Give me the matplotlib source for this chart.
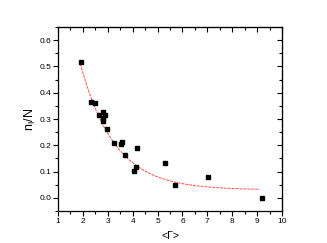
import numpy as np
import matplotlib.pyplot as plt
from matplotlib.ticker import MultipleLocator

plt.rcParams['font.family'] = ['Liberation Sans', 'DejaVu Sans']

# measured points
gamma_mean = [1.91, 2.32, 2.49, 2.63, 2.80, 2.79, 2.81, 2.89, 2.95, 3.24,
              3.54, 3.57, 3.70, 4.16, 4.05, 4.12, 5.29, 5.70, 7.03, 9.19]
n_frac = [0.518, 0.364, 0.360, 0.315, 0.326, 0.305, 0.293, 0.317, 0.261, 0.207,
          0.203, 0.211, 0.162, 0.188, 0.103, 0.117, 0.131, 0.048, 0.078, 0.000]

# exponential decay fit: y = y0 + A*exp(-(x - x0)/t)
fit_y0, fit_A, fit_x0, fit_t = 0.030, 0.480, 1.9, 1.37
fit_range = (1.9, 9.1)

fig = plt.figure(figsize=(3.27, 2.43), dpi=100)
ax = fig.add_axes([58 / 327, 1 - 211 / 243, 224 / 327, 184 / 243])

xf = np.linspace(*fit_range, 200)
ax.plot(xf, fit_y0 + fit_A * np.exp(-(xf - fit_x0) / fit_t),
        color='#ff5050', lw=0.7, ls=(0, (3, 1)), zorder=1)
ax.plot(gamma_mean, n_frac, 's', color='black', ms=2.5, zorder=2)

ax.set_xlim(1, 10)
ax.set_ylim(-0.05, 0.65)
ax.xaxis.set_major_locator(MultipleLocator(1))
ax.xaxis.set_minor_locator(MultipleLocator(0.5))
ax.yaxis.set_major_locator(MultipleLocator(0.1))
ax.yaxis.set_minor_locator(MultipleLocator(0.05))
ax.yaxis.set_major_formatter(plt.FormatStrFormatter('%.1f'))
ax.tick_params(which='both', direction='out', labelsize=6, width=0.8, pad=1.5)
ax.tick_params(which='major', length=3.5)
ax.tick_params(which='minor', length=2)
for s in ax.spines.values():
    s.set_linewidth(0.9)

# mirrored inward ticks on top and right
top = ax.secondary_xaxis('top')
right = ax.secondary_yaxis('right')
for sec in (top, right):
    sec.tick_params(which='both', direction='in', labelsize=0, width=0.8)
    sec.tick_params(which='major', length=3.5)
    sec.tick_params(which='minor', length=2)
top.xaxis.set_major_locator(MultipleLocator(1))
top.xaxis.set_minor_locator(MultipleLocator(0.5))
right.yaxis.set_major_locator(MultipleLocator(0.1))
right.yaxis.set_minor_locator(MultipleLocator(0.05))
top.set_xticklabels([])
right.set_yticklabels([])

ax.set_xlabel('<Γ>', fontsize=7.5, labelpad=4)
ax.set_ylabel(r'n$_{\mathregular{I}}$/N', fontsize=9, labelpad=1)

fig.savefig('out.png', dpi=100)
